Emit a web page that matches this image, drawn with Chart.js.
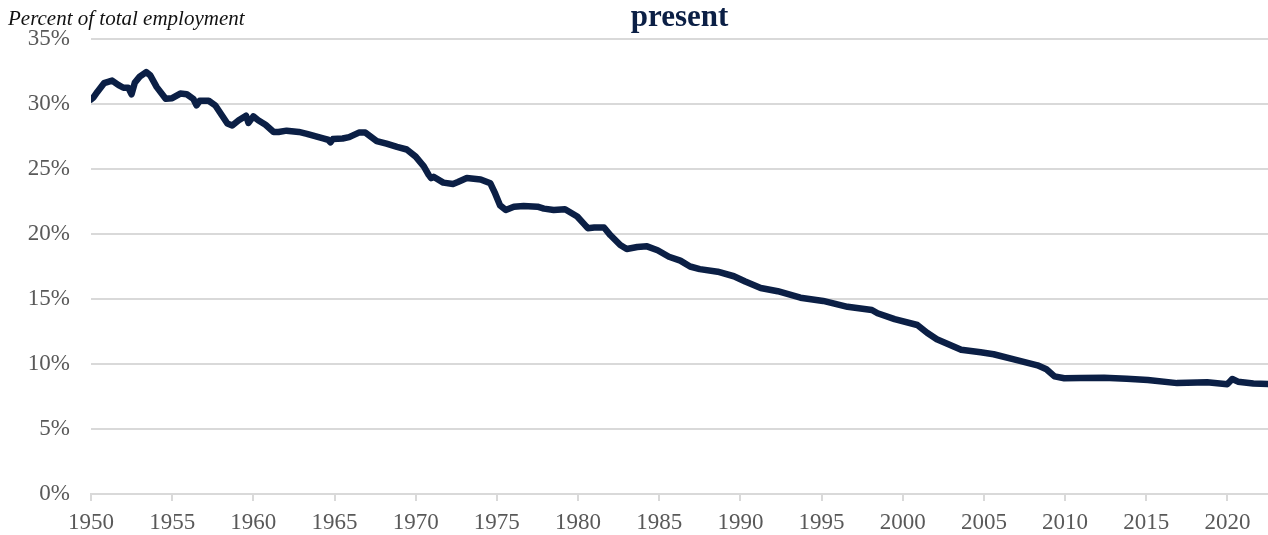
<!DOCTYPE html>
<html>
<head>
<meta charset="utf-8">
<script src="https://cdn.jsdelivr.net/npm/chart.js@4/dist/chart.umd.min.js"></script>
<style>
  html, body { margin: 0; padding: 0; background: #fff; }
  #wrap { width: 1268px; height: 535px; position: relative; }
</style>
</head>
<body>
<div id="wrap"><canvas id="share-chart" width="1268" height="535"></canvas></div>
<script>
// Share of total employment
const years = [
    1950.0, 1950.15, 1950.4, 1950.8, 1951.3, 1951.7, 1952.0, 1952.3, 1952.5, 1952.7,
    1953.0, 1953.4, 1953.65, 1954.05, 1954.6, 1955.0, 1955.5, 1955.9, 1956.3, 1956.5,
    1956.7, 1957.25, 1957.65, 1958.05, 1958.4, 1958.7, 1959.1, 1959.55, 1959.7, 1960.0,
    1960.3, 1960.75, 1961.25, 1961.55, 1962.05, 1962.8, 1963.3, 1964.3, 1964.6, 1964.75,
    1964.9, 1965.5, 1965.9, 1966.5, 1966.9, 1967.6, 1968.2, 1968.85, 1969.45, 1970.0,
    1970.5, 1970.8, 1970.95, 1971.1, 1971.7, 1972.3, 1972.6, 1973.15, 1974.0, 1974.6,
    1974.9, 1975.2, 1975.55, 1976.05, 1976.65, 1977.5, 1977.9, 1978.5, 1979.2, 1979.95,
    1980.35, 1980.6, 1981.0, 1981.6, 1982.0, 1982.6, 1983.0, 1983.65, 1984.25, 1984.9,
    1985.6, 1986.3, 1986.9, 1987.5, 1988.6, 1989.6, 1990.3, 1991.25, 1992.3, 1993.0,
    1993.7, 1995.1, 1996.6, 1998.1, 1998.45, 1999.5, 2000.9, 2001.5, 2002.1, 2003.6,
    2004.8, 2005.6, 2006.85, 2008.3, 2008.85, 2009.35, 2009.95, 2010.95, 2012.4, 2013.8,
    2015.1, 2016.9, 2018.75, 2020.0, 2020.3, 2020.65, 2021.6, 2022.5
];
const sharePct = [
    30.35, 30.5, 30.95, 31.6, 31.8, 31.45, 31.25, 31.25, 30.75, 31.65,
    32.1, 32.45, 32.2, 31.3, 30.4, 30.45, 30.8, 30.75, 30.4, 29.9,
    30.25, 30.25, 29.9, 29.15, 28.5, 28.35, 28.75, 29.1, 28.55, 29.05,
    28.75, 28.4, 27.85, 27.85, 27.95, 27.85, 27.7, 27.35, 27.25, 27.05,
    27.3, 27.35, 27.45, 27.8, 27.8, 27.15, 26.95, 26.7, 26.5, 25.95,
    25.2, 24.55, 24.3, 24.4, 23.95, 23.85, 24.0, 24.3, 24.2, 23.9,
    23.1, 22.2, 21.85, 22.1, 22.15, 22.1, 21.95, 21.85, 21.9, 21.35,
    20.8, 20.45, 20.5, 20.5, 19.9, 19.15, 18.85, 19.0, 19.05, 18.75,
    18.25, 17.95, 17.5, 17.3, 17.1, 16.75, 16.35, 15.85, 15.6, 15.35,
    15.1, 14.85, 14.4, 14.15, 13.9, 13.45, 13.0, 12.4, 11.9, 11.1,
    10.9, 10.75, 10.35, 9.9, 9.6, 9.05, 8.9, 8.92, 8.95, 8.87,
    8.77, 8.53, 8.6, 8.45, 8.85, 8.64, 8.5, 8.47
];
const yTicks = [0, 5, 10, 15, 20, 25, 30, 35];
const xTicks = [1950, 1955, 1960, 1965, 1970, 1975, 1980, 1985, 1990, 1995, 2000, 2005, 2010, 2015, 2020];

const titleText = 'present';
const unitText = 'Percent of total employment';

const NAVY = '#0b1f45';
const GRID = '#d9d9d9';
const SERIF = '"Liberation Serif", "Times New Roman", serif';

// Draws the cropped title and the unit note in the top strip
const headerText = {
    id: 'headerText',
    afterDraw(chart) {
        const ctx = chart.ctx;
        const area = chart.chartArea;
        ctx.save();
        ctx.textBaseline = 'alphabetic';
        ctx.fillStyle = NAVY;
        ctx.font = 'bold 31px ' + SERIF;
        ctx.textAlign = 'center';
        ctx.fillText(titleText, (area.left + area.right) / 2, 26);
        ctx.fillStyle = '#111';
        ctx.font = 'italic 21px ' + SERIF;
        ctx.textAlign = 'left';
        ctx.fillText(unitText, 8, 25);
        ctx.restore();
    }
};

const points = years.map((y, i) => ({ x: y, y: sharePct[i] }));

new Chart(document.getElementById('share-chart').getContext('2d'), {
    type: 'line',
    data: {
        datasets: [{
            data: points,
            borderColor: NAVY,
            borderWidth: 6.5,
            borderJoinStyle: 'round',
            borderCapStyle: 'round',
            pointRadius: 0,
            tension: 0,
            fill: false
        }]
    },
    options: {
        responsive: false,
        animation: false,
        layout: { padding: { top: 39, left: 0, right: 0, bottom: 0 } },
        plugins: {
            legend: { display: false },
            tooltip: { enabled: false }
        },
        scales: {
            x: {
                type: 'linear',
                min: 1950,
                max: 2022.5,
                afterFit(scale) { scale.height = 41; },
                afterBuildTicks(scale) { scale.ticks = xTicks.map(v => ({ value: v })); },
                grid: { drawOnChartArea: false, drawTicks: true, tickLength: 7, color: GRID, lineWidth: 2 },
                border: { color: GRID, width: 2 },
                ticks: {
                    padding: 8,
                    maxRotation: 0,
                    color: '#595959',
                    font: { family: SERIF, size: 23 },
                    callback: v => String(v)
                }
            },
            y: {
                min: 0,
                max: 35,
                afterFit(scale) { scale.width = 91; },
                afterBuildTicks(scale) { scale.ticks = yTicks.map(v => ({ value: v })); },
                grid: { drawTicks: false, color: GRID, lineWidth: 2 },
                border: { display: false },
                ticks: {
                    padding: 21,
                    color: '#595959',
                    font: { family: SERIF, size: 23 },
                    callback: v => v + '%'
                }
            }
        }
    },
    plugins: [headerText]
});
</script>
</body>
</html>
